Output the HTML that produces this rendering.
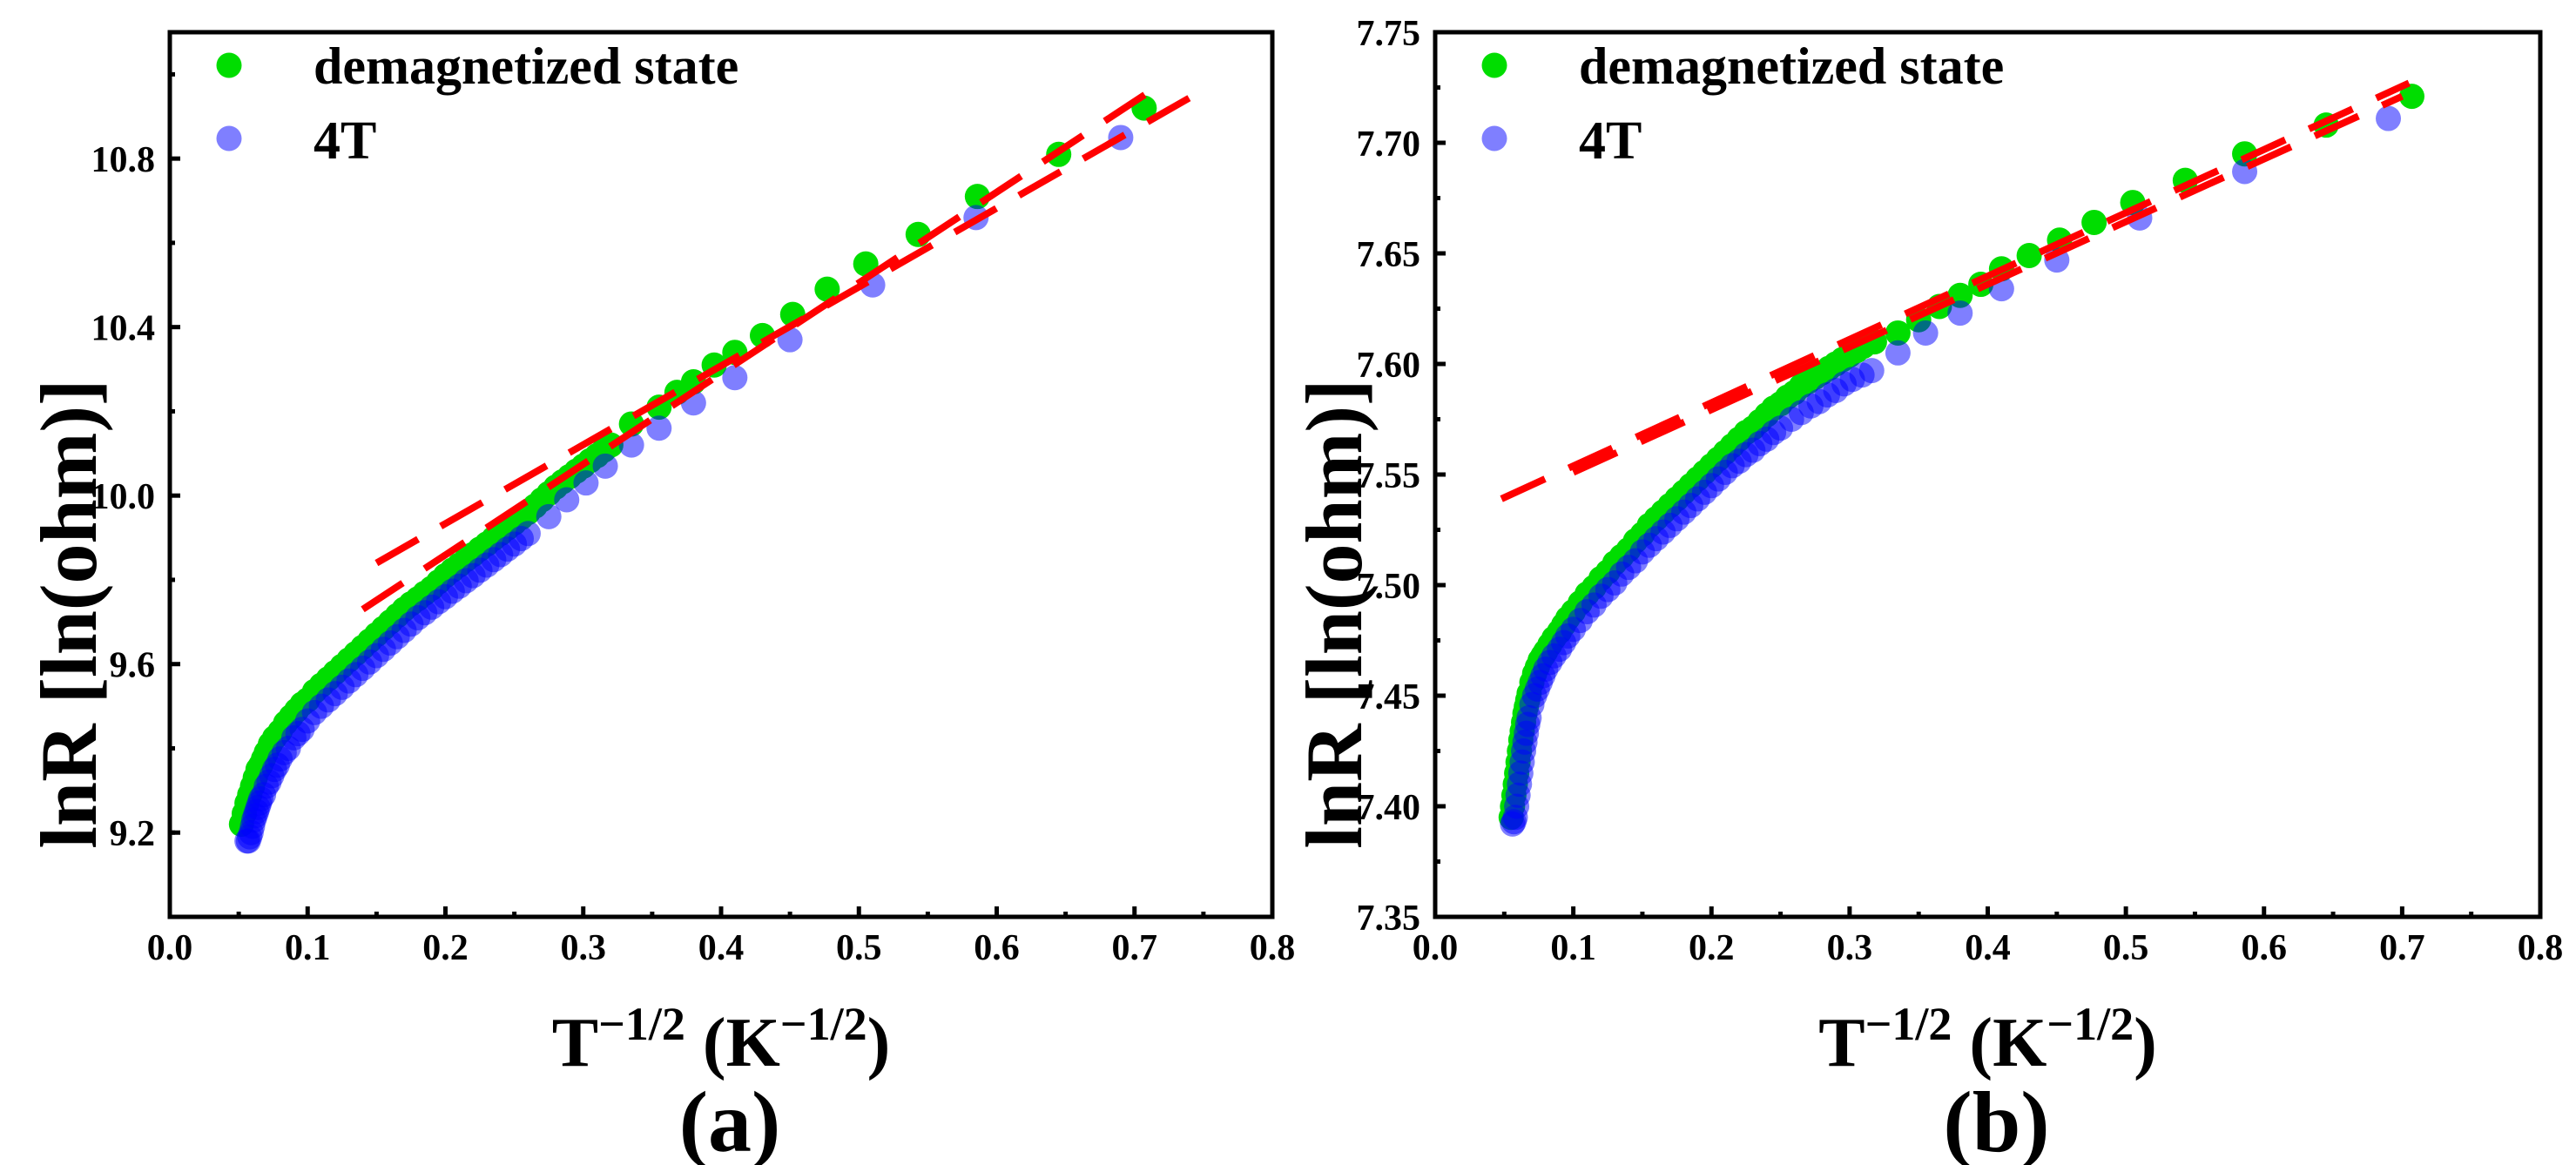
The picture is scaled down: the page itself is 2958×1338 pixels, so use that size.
<!DOCTYPE html>
<html><head><meta charset="utf-8"><style>
html,body{margin:0;padding:0;background:#fff;}
svg{display:block;font-family:"Liberation Serif",serif;font-weight:bold;}
</style></head><body>
<svg id="fig" width="2958" height="1338" viewBox="0 0 2958 1338" xmlns="http://www.w3.org/2000/svg"></svg>
<script>
// ---- data arrays ----
const xTicks = [0.0,0.1,0.2,0.3,0.4,0.5,0.6,0.7,0.8];
const yTicksA = [9.2,9.6,10.0,10.4,10.8];
const yTicksB = [7.35,7.40,7.45,7.50,7.55,7.60,7.65,7.70,7.75];
const xTickLabels = ["0.0","0.1","0.2","0.3","0.4","0.5","0.6","0.7","0.8"];
const yTickLabelsA = ["9.2","9.6","10.0","10.4","10.8"];
const yTickLabelsB = ["7.35","7.40","7.45","7.50","7.55","7.60","7.65","7.70","7.75"];

const greenAx = [0.052,0.054,0.056,0.058,0.06,0.062,0.064,0.066,0.068,0.07,0.073,0.076,0.08,0.084,0.088,0.092,0.096,0.1,0.105,0.11,0.115,0.12,0.125,0.13,0.135,0.14,0.145,0.15,0.155,0.16,0.165,0.17,0.175,0.18,0.185,0.19,0.195,0.2,0.205,0.21,0.215,0.22,0.225,0.23,0.235,0.24,0.245,0.25,0.255,0.26,0.265,0.27,0.275,0.28,0.285,0.29,0.295,0.30,0.305,0.31,0.315,0.32,0.335,0.355,0.368,0.38,0.395,0.41,0.43,0.452,0.477,0.505,0.543,0.586,0.645,0.707];
const greenAy = [9.22,9.245,9.27,9.29,9.31,9.33,9.35,9.36,9.375,9.39,9.41,9.425,9.44,9.46,9.475,9.49,9.505,9.515,9.535,9.55,9.565,9.58,9.595,9.61,9.625,9.64,9.655,9.67,9.685,9.70,9.715,9.73,9.743,9.755,9.768,9.78,9.795,9.81,9.823,9.835,9.848,9.86,9.873,9.885,9.898,9.91,9.923,9.935,9.948,9.96,9.975,9.99,10.005,10.02,10.033,10.045,10.058,10.07,10.083,10.095,10.108,10.12,10.17,10.21,10.245,10.27,10.31,10.34,10.38,10.43,10.49,10.55,10.62,10.71,10.81,10.92];
const blueAx = [0.056,0.057,0.058,0.059,0.06,0.061,0.062,0.063,0.064,0.065,0.066,0.068,0.07,0.072,0.074,0.076,0.078,0.08,0.083,0.086,0.09,0.093,0.096,0.1,0.105,0.11,0.115,0.12,0.125,0.13,0.135,0.14,0.145,0.15,0.155,0.16,0.165,0.17,0.175,0.18,0.185,0.19,0.195,0.2,0.205,0.21,0.215,0.22,0.225,0.23,0.235,0.24,0.245,0.25,0.255,0.26,0.275,0.288,0.302,0.316,0.335,0.355,0.38,0.41,0.45,0.51,0.585,0.69];
const blueAy = [9.18,9.18,9.19,9.20,9.215,9.23,9.24,9.25,9.26,9.27,9.28,9.29,9.31,9.32,9.335,9.35,9.36,9.375,9.39,9.40,9.425,9.435,9.445,9.465,9.485,9.50,9.515,9.53,9.545,9.56,9.575,9.59,9.605,9.62,9.635,9.65,9.665,9.68,9.695,9.71,9.722,9.735,9.748,9.76,9.773,9.785,9.798,9.81,9.823,9.835,9.848,9.86,9.873,9.885,9.898,9.91,9.95,9.99,10.03,10.07,10.12,10.16,10.22,10.28,10.37,10.50,10.66,10.85];
const fitAx1 = [0.14,0.716], fitAy1 = [9.73,10.97];
const fitAx2 = [0.15,0.743], fitAy2 = [9.84,10.95];

const greenBx = [0.055,0.056,0.057,0.058,0.059,0.06,0.061,0.062,0.063,0.064,0.065,0.066,0.067,0.068,0.07,0.072,0.074,0.076,0.078,0.08,0.083,0.086,0.09,0.093,0.096,0.1,0.105,0.11,0.115,0.12,0.125,0.13,0.135,0.14,0.145,0.15,0.155,0.16,0.165,0.17,0.175,0.18,0.185,0.19,0.195,0.2,0.205,0.21,0.215,0.22,0.225,0.23,0.235,0.24,0.245,0.25,0.255,0.26,0.265,0.27,0.275,0.28,0.285,0.29,0.295,0.3,0.305,0.31,0.318,0.335,0.35,0.365,0.38,0.395,0.41,0.43,0.452,0.477,0.505,0.543,0.586,0.645,0.707];
const greenBy = [7.395,7.40,7.405,7.41,7.415,7.42,7.425,7.43,7.434,7.438,7.442,7.445,7.448,7.451,7.456,7.46,7.463,7.466,7.468,7.47,7.473,7.476,7.479,7.482,7.485,7.488,7.492,7.496,7.499,7.503,7.506,7.51,7.513,7.516,7.52,7.523,7.527,7.53,7.533,7.536,7.539,7.542,7.545,7.548,7.551,7.554,7.557,7.56,7.563,7.566,7.569,7.571,7.574,7.577,7.58,7.582,7.585,7.587,7.59,7.592,7.594,7.596,7.598,7.6,7.602,7.604,7.606,7.608,7.61,7.614,7.620,7.626,7.631,7.636,7.643,7.649,7.656,7.664,7.673,7.683,7.695,7.708,7.721];
const blueBx = [0.056,0.057,0.058,0.059,0.06,0.061,0.062,0.063,0.064,0.065,0.066,0.067,0.068,0.07,0.072,0.074,0.076,0.078,0.08,0.083,0.086,0.09,0.093,0.096,0.1,0.105,0.11,0.115,0.12,0.125,0.13,0.135,0.14,0.145,0.15,0.155,0.16,0.165,0.17,0.175,0.18,0.185,0.19,0.195,0.2,0.205,0.21,0.215,0.22,0.225,0.23,0.235,0.24,0.245,0.25,0.258,0.265,0.272,0.278,0.284,0.29,0.296,0.302,0.309,0.316,0.335,0.355,0.38,0.41,0.45,0.51,0.586,0.69];
const blueBy = [7.392,7.393,7.395,7.40,7.405,7.41,7.415,7.42,7.425,7.429,7.433,7.437,7.44,7.446,7.45,7.453,7.456,7.459,7.462,7.465,7.468,7.471,7.474,7.477,7.48,7.484,7.488,7.491,7.495,7.498,7.501,7.505,7.508,7.511,7.515,7.518,7.521,7.524,7.527,7.53,7.533,7.536,7.539,7.542,7.545,7.548,7.551,7.554,7.556,7.559,7.561,7.564,7.566,7.569,7.571,7.575,7.578,7.581,7.583,7.586,7.588,7.591,7.593,7.595,7.597,7.605,7.614,7.623,7.634,7.647,7.666,7.687,7.711];
const fitBx1 = [0.048,0.705], fitBy1 = [7.539,7.727];
const fitBx2 = [0.10,0.70], fitBy2 = [7.551,7.721];

const NS = "http://www.w3.org/2000/svg";
const svg = document.getElementById('fig');
function mk(tag, attrs, parent){
  const e = document.createElementNS(NS, tag);
  for (const k in attrs) e.setAttribute(k, attrs[k]);
  (parent||svg).appendChild(e);
  return e;
}
function panel(P){
  const g = mk('g', {});
  
  
  const sx = v => P.x0 + (v - 0) / 0.8 * (P.x1 - P.x0);
  const sy = v => P.y1 - (v - P.ymin) / (P.ymax - P.ymin) * (P.y1 - P.y0);
  const cid = P.name + '-clip';
  const cp = mk('clipPath', {id: cid}, g);
  mk('rect', {x:P.x0, y:P.y0, width:P.x1-P.x0, height:P.y1-P.y0}, cp);
  const plot = mk('g', {'clip-path':'url(#'+cid+')'}, g);
  P.gx.forEach((x,i)=>{
    const c = mk('circle', {cx:sx(x), cy:sy(P.gy[i]), r:14.5, fill:'#00dd00'}, plot);
    
    
  });
  P.bx.forEach((x,i)=>{
    const c = mk('circle', {cx:sx(x), cy:sy(P.by[i]), r:14.5, fill:'rgba(0,0,255,0.5)'}, plot);
    
    
  });
  P.fits.forEach(f=>{
    const l = mk('line', {x1:sx(f[0][0]), y1:sy(f[1][0]), x2:sx(f[0][1]), y2:sy(f[1][1]), stroke:'#ff0000', 'stroke-width':8, 'stroke-dasharray':'55 30'}, plot);
    
    
  });
  const fr = mk('rect', {x:P.x0, y:P.y0, width:P.x1-P.x0, height:P.y1-P.y0, fill:'none', stroke:'#000', 'stroke-width':5}, g);
  
  
  xTicks.forEach((v,i)=>{
    mk('line', {x1:sx(v), y1:P.y1, x2:sx(v), y2:P.y1-12, stroke:'#000','stroke-width':5}, g);
    if (i < xTicks.length-1) mk('line', {x1:sx(v+0.05), y1:P.y1, x2:sx(v+0.05), y2:P.y1-6, stroke:'#000','stroke-width':5}, g);
    const t = mk('text', {x:sx(v), y:P.y1+49, 'font-size':42, 'text-anchor':'middle'}, g);
    t.textContent = xTickLabels[i];
    
    
  });
  P.yt.forEach((v,i)=>{
    mk('line', {x1:P.x0, y1:sy(v), x2:P.x0+12, y2:sy(v), stroke:'#000','stroke-width':5}, g);
    const mv = v + P.ystep/2;
    if (mv < P.ymax) mk('line', {x1:P.x0, y1:sy(mv), x2:P.x0+6, y2:sy(mv), stroke:'#000','stroke-width':5}, g);
    const t = mk('text', {x:P.x0-17, y:sy(v)+15, 'font-size':42, 'text-anchor':'end'}, g);
    t.textContent = P.ytl[i];
    
    
  });
  mk('line', {x1:P.x0, y1:sy(P.ymin+P.ystep/2), x2:P.x0+6, y2:sy(P.ymin+P.ystep/2), stroke:'#000','stroke-width':5}, g);
  const xt = mk('text', {x:(P.x0+P.x1)/2, y:1224, 'font-size':80, 'text-anchor':'middle'}, g);
  xt.innerHTML = 'T<tspan font-size="54" dy="-30">−1/2</tspan><tspan dy="30"> (K</tspan><tspan font-size="54" dy="-30">−1/2</tspan><tspan dy="30">)</tspan>';
  
  
  const yt = mk('text', {x:0, y:0, 'font-size':92, 'text-anchor':'middle', transform:'translate('+(P.ytx)+',705) rotate(-90)'}, g);
  yt.textContent = 'lnR [ln(ohm)]';
  
  
  const pl = mk('text', {x:(P.x0+P.x1)/2 + 10, y:1322, 'font-size':100, 'text-anchor':'middle'}, g);
  pl.textContent = P.label;
  
  
  const lg = mk('g', {}, g);
  
  
  mk('circle', {cx:P.x0+68, cy:75, r:14.5, fill:'#00dd00'}, lg);
  mk('circle', {cx:P.x0+68, cy:159, r:14.5, fill:'rgba(0,0,255,0.5)'}, lg);
  const l1 = mk('text', {x:P.x0+165, y:96, 'font-size':60}, lg);
  l1.textContent = 'demagnetized state';
  
  
  const l2 = mk('text', {x:P.x0+165, y:182, 'font-size':62}, lg);
  l2.textContent = '4T';
  
  
}
panel({name:'panel-a', label:'(a)', x0:195, x1:1461, y0:37, y1:1053, ymin:9.0, ymax:11.1, ystep:0.4,
  yt:yTicksA, ytl:yTickLabelsA, ytx:110, gx:greenAx, gy:greenAy, bx:blueAx, by:blueAy,
  fits:[[fitAx1,fitAy1],[fitAx2,fitAy2]]});
panel({name:'panel-b', label:'(b)', x0:1648, x1:2917, y0:37, y1:1053, ymin:7.35, ymax:7.75, ystep:0.05,
  yt:yTicksB, ytl:yTickLabelsB, ytx:1563, gx:greenBx, gy:greenBy, bx:blueBx, by:blueBy,
  fits:[[fitBx1,fitBy1],[fitBx2,fitBy2]]});
</script>
</body></html>
